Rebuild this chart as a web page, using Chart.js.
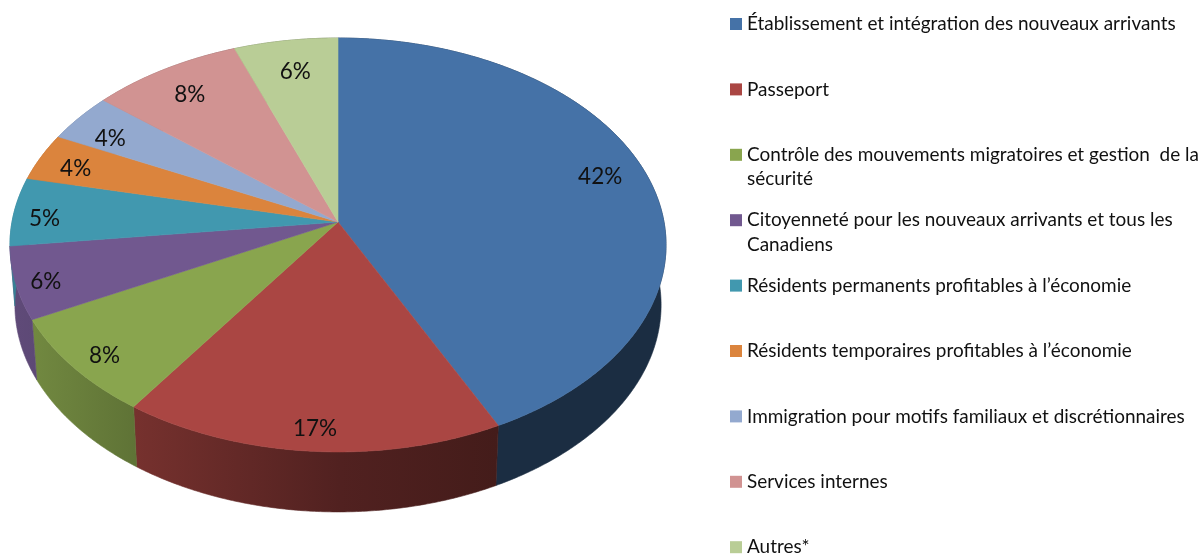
<!DOCTYPE html>
<html lang="fr">
<head>
<meta charset="utf-8">
<title>Répartition</title>
<script src="https://cdn.jsdelivr.net/npm/chart.js@4"></script>
<style>html,body{margin:0;padding:0;background:#fff}canvas{display:block}</style>
</head>
<body>
<canvas id="c" width="1201" height="555"></canvas>
<script>
const categories = [
  "Établissement et intégration des nouveaux arrivants",
  "Passeport",
  "Contrôle des mouvements migratoires et gestion  de la sécurité",
  "Citoyenneté pour les nouveaux arrivants et tous les Canadiens",
  "Résidents permanents profitables à l’économie",
  "Résidents temporaires profitables à l’économie",
  "Immigration pour motifs familiaux et discrétionnaires",
  "Services internes",
  "Autres*"
];
const shares = [42.7, 16.95, 7.85, 5.65, 5.35, 3.7, 3.8, 8.3, 5.7];
const percentLabels = ["42%", "17%", "8%", "6%", "5%", "4%", "4%", "8%", "6%"];
const colors = ["#4572A7","#AA4643","#89A54E","#71588F","#4198AF","#DB843D","#93A9CF","#D19392","#B9CD96"];

// Perspective of the tilted disc
const TILT = 0.111, SQUASH = 0.627, DEPTH = 60, BASE_SHRINK = 0.985;
const LABEL_FACTOR = [0.85, 0.90, 0.90, 0.90, 0.90, 0.88, 0.85, 0.85, 0.80];
const LABEL_NUDGE = [[-2,-7],[1,3],[3,4],[-3,5],[-2,6],[0,4],[-6,6],[1,4],[0,-2]];
const LEGEND_LINES = [[0],[1],[2,"Contrôle des mouvements migratoires et gestion  de la","sécurité"],[3,"Citoyenneté pour les nouveaux arrivants et tous les","Canadiens"],[4],[5],[6],[7],[8]];
const LEGEND_Y0 = 24, LEGEND_STEP = 65.4, LEGEND_LINE = 24.5;
const SHADE_STOPS = [[0,0.86],[35,0.83],[135,0.7],[340,0.48],[497,0.4],[700,0.4]];

function project(arc, angle, f) {
  const X = Math.cos(angle) * f, Y = Math.sin(angle) * f;
  const w = 1 - TILT * Y, R = arc.outerRadius;
  return { x: arc.x + R * X / w, y: arc.y + R * SQUASH * Y / w };
}
function rim(arc, base) {
  const pts = [], n = Math.max(2, Math.ceil((arc.endAngle - arc.startAngle) * 120));
  for (let i = 0; i <= n; i++) {
    const p = project(arc, arc.startAngle + (arc.endAngle - arc.startAngle) * i / n, 1);
    pts.push(base ? { x: arc.x + (p.x - arc.x) * BASE_SHRINK, y: p.y + DEPTH } : p);
  }
  return pts;
}
function shaded(ctx, hex) {
  const g = ctx.createLinearGradient(0, 0, 700, 0);
  const r = parseInt(hex.slice(1,3),16), gr = parseInt(hex.slice(3,5),16), b = parseInt(hex.slice(5,7),16);
  SHADE_STOPS.forEach(([x, k]) => g.addColorStop(x / 700, `rgb(${r*k|0},${gr*k|0},${b*k|0})`));
  return g;
}
const pie3d = {
  id: 'pie3d',
  beforeDatasetsDraw(chart) {
    const ctx = chart.ctx, arcs = chart.getDatasetMeta(0).data;
    ctx.save();
    ctx.lineJoin = 'round';
    arcs.forEach((arc, i) => {
      const top = rim(arc, false), bot = rim(arc, true).reverse(), fill = shaded(ctx, colors[i]);
      ctx.beginPath();
      top.concat(bot).forEach((p, k) => k ? ctx.lineTo(p.x, p.y) : ctx.moveTo(p.x, p.y));
      ctx.closePath();
      ctx.fillStyle = fill; ctx.strokeStyle = fill; ctx.lineWidth = 0.6;
      ctx.fill(); ctx.stroke();
    });
    arcs.forEach((arc, i) => {
      ctx.beginPath();
      ctx.moveTo(arc.x, arc.y);
      rim(arc, false).forEach(p => ctx.lineTo(p.x, p.y));
      ctx.closePath();
      ctx.fillStyle = colors[i]; ctx.strokeStyle = colors[i]; ctx.lineWidth = 0.6;
      ctx.fill(); ctx.stroke();
    });
    ctx.font = '22.5px Lato';
    ctx.fillStyle = '#111';
    ctx.textAlign = 'center';
    ctx.textBaseline = 'middle';
    arcs.forEach((arc, i) => {
      const p = project(arc, (arc.startAngle + arc.endAngle) / 2, LABEL_FACTOR[i]);
      ctx.fillText(percentLabels[i], p.x + LABEL_NUDGE[i][0], p.y + LABEL_NUDGE[i][1]);
    });
    ctx.restore();
    return false;
  },
  afterDraw(chart) {
    const ctx = chart.ctx;
    ctx.save();
    ctx.font = '18.95px Lato';
    ctx.textAlign = 'left';
    ctx.textBaseline = 'middle';
    LEGEND_LINES.forEach((row, r) => {
      const y = LEGEND_Y0 + r * LEGEND_STEP;
      ctx.fillStyle = colors[row[0]];
      ctx.fillRect(730, y - 6, 12, 12);
      ctx.fillStyle = '#111';
      const lines = row.length > 1 ? row.slice(1) : [categories[row[0]]];
      lines.forEach((t, k) => ctx.fillText(t, 747, y + k * LEGEND_LINE));
    });
    ctx.restore();
  }
};
new Chart(document.getElementById('c'), {
  type: 'pie',
  data: { labels: categories, datasets: [{ data: shares, backgroundColor: colors, borderWidth: 0, radius: 326 }] },
  options: {
    responsive: false,
    animation: false,
    layout: { padding: { left: 0, top: 0, right: 525, bottom: 111 } },
    plugins: { legend: { display: false }, tooltip: { enabled: false } }
  },
  plugins: [pie3d]
});
</script>
</body>
</html>
